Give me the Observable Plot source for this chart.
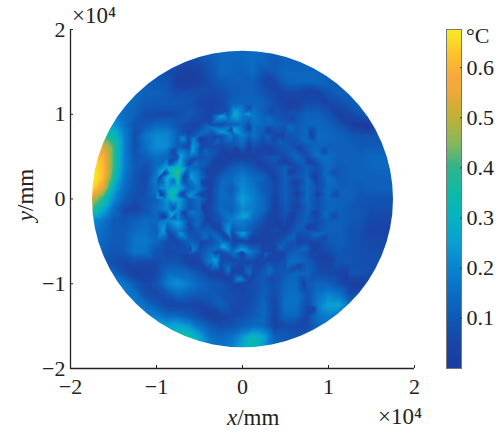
<!DOCTYPE html>
<html><head><meta charset="utf-8">
<style>html,body{margin:0;padding:0;background:#fff}#c{position:relative;width:500px;height:431px}#c svg{position:absolute;left:0;top:0;background:transparent}</style>
<script src="https://cdn.jsdelivr.net/npm/d3@7"></script>
<script src="https://cdn.jsdelivr.net/npm/@observablehq/plot@0.6"></script>
</head><body><div id="c"></div>
<script>
const _ = null;
// Temperature rise in hundredths of a degree on a regular grid
const gridX = [-1.75,-1.625,-1.5,-1.375,-1.25,-1.125,-1,-0.875,-0.75,-0.625,-0.5,-0.375,-0.25,-0.125,0,0.125,0.25,0.375,0.5,0.625,0.75,0.875,1,1.125,1.25,1.375,1.5,1.625,1.75];
const gridY = [1.75,1.625,1.5,1.375,1.25,1.125,1,0.875,0.75,0.625,0.5,0.375,0.25,0.125,0,-0.125,-0.25,-0.375,-0.5,-0.625,-0.75,-0.875,-1,-1.125,-1.25,-1.375,-1.5,-1.625,-1.75];
const temps = [
[_,_,_,_,_,_,_,_,_,_,12,12,13,13,13,14,13,12,12,_,_,_,_,_,_,_,_,_,_],
[_,_,_,_,_,_,_,_,10,8,9,11,13,13,13,14,13,11,12,12,12,_,_,_,_,_,_,_,_],
[_,_,_,_,_,_,10,9,7,6,7,10,13,13,12,14,10,11,13,13,13,13,12,_,_,_,_,_,_],
[_,_,_,_,_,12,11,10,6,5,7,9,11,12,12,12,8,8,12,13,13,13,12,11,_,_,_,_,_],
[_,_,_,14,13,12,12,11,9,9,9,8,9,11,12,12,10,8,8,8,7,7,10,12,12,11,_,_,_],
[_,_,14,14,13,11,11,11,11,10,8,7,8,12,13,13,12,9,7,6,9,9,8,9,11,12,12,_,_],
[_,_,16,14,12,9,8,8,9,11,9,7,10,18,18,17,12,10,9,10,12,12,10,6,8,10,11,_,_],
[_,22,22,15,10,11,13,13,10,8,8,8,9,12,13,15,13,12,11,11,13,13,12,10,7,4,6,10,_],
[34,36,30,18,9,16,20,19,12,8,13,10,10,18,18,16,10,8,10,11,13,14,13,12,11,10,10,11,_],
[50,52,38,18,9,15,21,20,11,8,13,9,8,10,13,10,7,9,11,9,11,13,12,12,12,11,11,11,11],
[62,60,38,18,10,12,15,13,9,15,10,11,7,6,7,7,9,11,9,13,9,13,14,12,12,12,13,13,13],
[67,62,38,18,11,9,14,24,30,14,12,8,7,11,13,10,7,9,12,8,12,9,14,11,12,12,13,13,13],
[68,62,34,16,10,8,18,27,36,12,16,7,12,14,18,14,12,7,12,10,13,8,15,11,12,12,12,12,12],
[66,54,26,14,10,9,16,24,28,12,17,7,14,11,20,16,11,8,12,8,14,9,14,12,12,11,12,12,12],
[48,36,20,12,9,10,12,22,25,11,15,7,14,13,24,18,13,7,12,8,14,9,13,12,12,10,10,10,10],
[38,26,14,8,7,10,14,20,22,10,13,8,14,12,20,17,13,6,11,8,12,9,13,12,11,10,9,9,9],
[20,16,11,10,12,14,13,18,20,9,13,7,11,17,18,14,9,6,9,9,12,9,12,12,11,10,8,8,8],
[17,14,11,11,14,15,12,9,17,9,11,12,8,10,14,10,7,9,7,11,10,9,12,12,10,9,7,7,7],
[14,13,11,11,16,17,13,9,8,12,10,9,15,9,7,6,6,8,11,9,8,8,11,12,10,9,8,8,8],
[_,12,10,11,16,15,10,8,9,10,9,14,9,14,7,15,8,7,9,12,10,7,9,11,10,9,9,9,_],
[_,10,9,8,9,8,8,10,10,7,7,13,9,10,8,8,8,8,10,14,12,8,7,10,10,9,9,9,_],
[_,_,13,9,6,6,8,14,14,13,10,7,6,7,7,8,11,10,11,13,13,9,8,7,10,10,9,_,_],
[_,_,16,16,11,8,10,17,21,17,13,11,10,8,7,9,11,9,13,14,11,13,12,9,6,6,11,_,_],
[_,_,_,17,15,9,8,10,14,12,11,11,10,9,8,9,12,9,14,15,10,15,19,16,9,10,_,_,_],
[_,_,_,_,17,14,11,8,8,8,7,9,12,9,8,10,13,8,15,15,9,17,24,24,14,_,_,_,_],
[_,_,_,_,_,18,17,13,13,11,9,6,7,8,9,11,13,7,13,13,8,15,18,16,_,_,_,_,_],
[_,_,_,_,_,_,_,24,26,22,15,11,9,10,12,14,13,7,9,8,8,13,14,_,_,_,_,_,_],
[_,_,_,_,_,_,_,_,30,33,25,15,13,15,22,30,24,12,11,10,12,_,_,_,_,_,_,_,_],
[_,_,_,_,_,_,_,_,_,_,25,17,15,18,26,30,22,13,11,_,_,_,_,_,_,_,_,_,_]
];
// Concentric rings, sampled every 15 degrees counter-clockwise from +x, in hundredths
const ringCentreX = 0.08, ringCentreY = 0.05;
const ringAngles = [0,15,30,45,60,75,90,105,120,135,150,165,180,195,210,225,240,255,270,285,300,315,330,345];
const ringRadii = [0.56,0.72,0.79,0.92,1.02];
const ringTemps = [
[6,6,6,6,7,7,6,6,6,6,6,6,7,6,6,6,6,6,6,6,6,6,6,6],
[12,13,12,12,12,12,13,12,13,13,15,16,17,16,14,14,15,15,14,13,13,13,12,12],
[6,6,6,7,7,7,7,8,8,8,8,8,7,7,7,7,8,8,7,7,7,7,6,6],
[14,14,15,14,14,14,15,15,15,19,24,32,30,27,22,18,17,16,15,15,14,14,14,14],
[8,9,8,7,8,8,9,9,8,8,7,6,6,6,7,7,7,7,7,8,8,8,8,8]
];
// Bright specks and thin dark lines, each point listed as x, y, hundredths
const specks = [[-0.24,0.98,25],[-0.09,1.0,26],[0.07,1.0,24],[-0.23,0.79,23],[-0.1,0.82,25],[-0.58,0.58,24],[-0.69,0.72,20],[-0.75,0.32,38],[-0.81,0.03,33],[-0.93,0.32,26],[-0.99,0.01,26],[-0.75,-0.28,25],[-0.92,-0.37,23],[-0.6,0.25,24],[-0.62,0.03,22],[-0.23,-0.56,26],[-0.31,-0.73,24],[0,-0.4,25],[-0.16,-0.39,22],[0,-0.6,24],[-0.03,-0.95,20],[0,-0.21,24],[0.03,-0.21,25]];
const serrations = [[-0.97,0.25,8],[-0.97,0.1,10],[-0.8,0.22,14],[-0.8,-0.11,10],[-0.8,-0.21,10],[-0.85,0.42,8],[-0.62,0.4,8],[-0.5,0.72,7],[-0.85,-0.45,8],[-0.6,-0.6,7],[-0.42,-0.85,7]];
const darkLines = [[0.3,1.42,7],[0.43,1.27,7],[0.57,1.13,6],[0.68,1.2,7],[0.77,1.3,8],[0.95,1.15,7],[1.15,0.96,6],[1.3,0.88,5],[1.44,0.84,4],[0.84,-0.58,6],[1.0,-0.72,6],[1.2,-0.9,6],[1.35,-1.01,5],[0.37,-1.44,7],[0.35,-1.2,8],[0.3,-0.95,9],[0.65,-0.78,7],[0.72,-1.0,7],[0.83,-1.29,7]];
const axisTicks = [-2,-1,0,1,2];
const barTicks = [0.1,0.2,0.3,0.4,0.5,0.6];
const colorStops = [0,0.05,0.1,0.15,0.2,0.25,0.3,0.35,0.4,0.45,0.5,0.55,0.58,0.62,0.676];
const colorRamp = ["#1c3c9e","#1846a8","#0f5ab6","#0a6fc6","#0a85d0","#0a9fd2","#06b3c0","#0dbaa6","#35b38a","#8bb85a","#c2b035","#f0a83a","#f8a83c","#fbc02c","#f8ee22"];
const discRadius = 1.75;
const barLevels = d3.range(0,0.676,0.004);
// My eye's readings of the low tones ran too close together; this recalibrates them around 0.13
const calibrate = v => v<0.13 ? 0.13-(0.13-v)*1.5 : v<0.3 ? 0.13+(v-0.13)*1.15 : v+0.025*(v<0.5);

const font = "'Liberation Serif',serif";
const ink = "#222";
const points = temps.flatMap((row,j)=>row.flatMap((v,i)=>v===null?[]:[{x:gridX[i],y:gridY[j],v:v/100}]))
  .concat(ringRadii.flatMap((r,k)=>ringAngles.map((a,i)=>({x:ringCentreX+r*Math.cos(a*Math.PI/180),y:ringCentreY+r*Math.sin(a*Math.PI/180),v:ringTemps[k][i]/100}))))
  .concat([...specks,...serrations,...darkLines].map(([x,y,v])=>({x,y,v:v/100})))
  .map(d=>({...d,v:calibrate(d.v)}));
const color = {type:"linear",domain:colorStops,range:colorRamp,clamp:true};
const fmt = d=>String(d).replace("-","\u2212");

const main = Plot.plot({
  width:500,height:431,marginLeft:70,marginRight:86,marginTop:29,marginBottom:63,
  style:{fontFamily:font,fontSize:"22px",color:ink,background:"transparent"},
  x:{domain:[-2,2]},y:{domain:[-2,2]},color,
  marks:[
    Plot.raster(points,{x:"x",y:"y",fill:"v",interpolate:"barycentric",
      render(index,scales,values,dims,ctx,next){
        const g=next(index,scales,values,dims,ctx);
        const img=g.querySelector("image");
        if(img) img.style.filter="blur(0.7px)";
        const ns="http://www.w3.org/2000/svg";
        const cp=document.createElementNS(ns,"clipPath");cp.setAttribute("id","disc");
        const e=document.createElementNS(ns,"ellipse");
        e.setAttribute("cx",scales.x(0));e.setAttribute("cy",scales.y(0));
        e.setAttribute("rx",scales.x(discRadius)-scales.x(0));
        e.setAttribute("ry",scales.y(0)-scales.y(discRadius));
        cp.appendChild(e);g.appendChild(cp);g.setAttribute("clip-path","url(#disc)");
        return g;
      }}),
    Plot.ruleX([-2],{stroke:ink,strokeWidth:1.3}),
    Plot.ruleY([-2],{stroke:ink,strokeWidth:1.3}),
    Plot.axisX({ticks:axisTicks,tickSize:-3,tickPadding:13,tickFormat:fmt,label:null,stroke:ink,fontSize:22}),
    Plot.axisY({ticks:axisTicks,tickSize:-3,tickPadding:8,tickFormat:fmt,label:null,stroke:ink,fontSize:22})
  ]
});
const bar = Plot.plot({
  width:500,height:431,marginLeft:446,marginRight:39,marginTop:29,marginBottom:63,
  style:{fontFamily:font,fontSize:"22px",color:ink,background:"transparent"},
  x:{domain:[0,1],axis:null},y:{domain:[0,0.676]},color,
  marks:[
    Plot.rect(barLevels,{x1:0,x2:1,y1:d=>d,y2:d=>Math.min(0.676,d+0.006),fill:d=>d}),
    Plot.frame({stroke:"#777",strokeWidth:1}),
    Plot.axisY({anchor:"right",ticks:barTicks,tickSize:-2,tickPadding:7,tickFormat:d=>d.toFixed(1),label:null,stroke:"#333",fontSize:22})
  ]
});
function label(svg,x,y,parts,size,rot){
  const t=d3.select(svg).append("text").attr("x",x).attr("y",y).attr("fill",ink)
    .attr("font-family",font).attr("font-size",size).attr("text-anchor",rot?"middle":"start");
  if(rot) t.attr("transform",`rotate(-90 ${x} ${y})`);
  parts.forEach(([s,it])=>t.append("tspan").attr("font-style",it?"italic":"normal").text(s));
}
label(main,227,425,[["x",1],["/mm",0]],23,false);
label(main,33,195,[["y",1],["/mm",0]],23,true);
label(main,72,23,[["\u00d710\u2074",0]],23,false);
label(main,378,424,[["\u00d710\u2074",0]],23,false);
label(bar,466,43,[["\u00b0C",0]],22,false);
document.getElementById("c").append(main,bar);
</script></body></html>
